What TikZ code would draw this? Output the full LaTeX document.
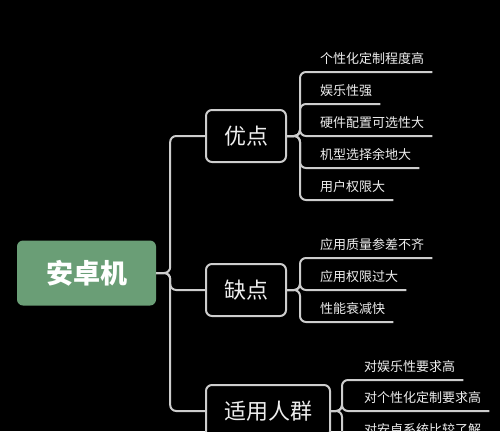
\documentclass[tikz,border=0pt]{standalone}
\usepackage{fontspec}
\setmainfont{Noto Sans CJK SC}
\usepackage{xcolor}
\usepackage{tikz}

\definecolor{rootgreen}{RGB}{106,158,118}
\definecolor{linegray}{RGB}{205,205,205}
\definecolor{textwhite}{RGB}{238,238,238}

\begin{document}
\begin{tikzpicture}[x=1pt,y=-1pt,
    branch/.style={draw=linegray, line width=2pt, rounded corners=6pt, fill=black,
      text=textwhite, anchor=west, minimum height=52pt, inner xsep=18pt,
      font=\fontsize{22}{26}\selectfont},
    leaf/.style={anchor=south west, text=textwhite, inner xsep=8pt, inner ysep=6pt,
      text height=11pt, text depth=2pt, font=\fontsize{13}{15}\selectfont},
    link/.style={draw=linegray, line width=2pt, rounded corners=6pt}]
  % Background and frame
  \fill[black] (0,0) rectangle (500,431);
  \clip (0,0) rectangle (500,431);

  % Root
  \node[fill=rootgreen, rounded corners=6pt, minimum width=139pt, minimum height=65pt,
    text=white, font=\fontsize{27}{32}\selectfont\bfseries] (root) at (86.5,273) {安卓机};

  % Main branches
  \node[branch] (pro) at (205,136) {优点};
  \node[branch] (con) at (205,290) {缺点};
  \node[branch] (fit) at (205,411) {适用人群};

  \foreach \b in {pro,con,fit} {
    \draw[link] (root.east) -- ++(14,0) |- (\b.west);
  }

  % Leaves of each branch
  \foreach \name/\y/\txt in {pro1/72/个性化定制程度高, pro2/104/娱乐性强,
      pro3/136/硬件配置可选性大, pro4/168/机型选择余地大, pro5/200/用户权限大} {
    \node[leaf] (\name) at (312,\y) {\txt};
    \draw[link] (pro.east) -- ++(13,0) |- (\name.south west) -- (\name.south east);
  }
  \foreach \name/\y/\txt in {con1/258/应用质量参差不齐, con2/290/应用权限过大,
      con3/322/性能衰减快} {
    \node[leaf] (\name) at (312,\y) {\txt};
    \draw[link] (con.east) -- ++(13,0) |- (\name.south west) -- (\name.south east);
  }
  \foreach \name/\y/\txt in {fit1/380/对娱乐性要求高, fit2/411/对个性化定制要求高,
      fit3/443/对安卓系统比较了解} {
    \node[leaf] (\name) at (356,\y) {\txt};
    \draw[link] (fit.east) -- ++(11,0) |- (\name.south west) -- (\name.south east);
  }
\end{tikzpicture}
\end{document}
